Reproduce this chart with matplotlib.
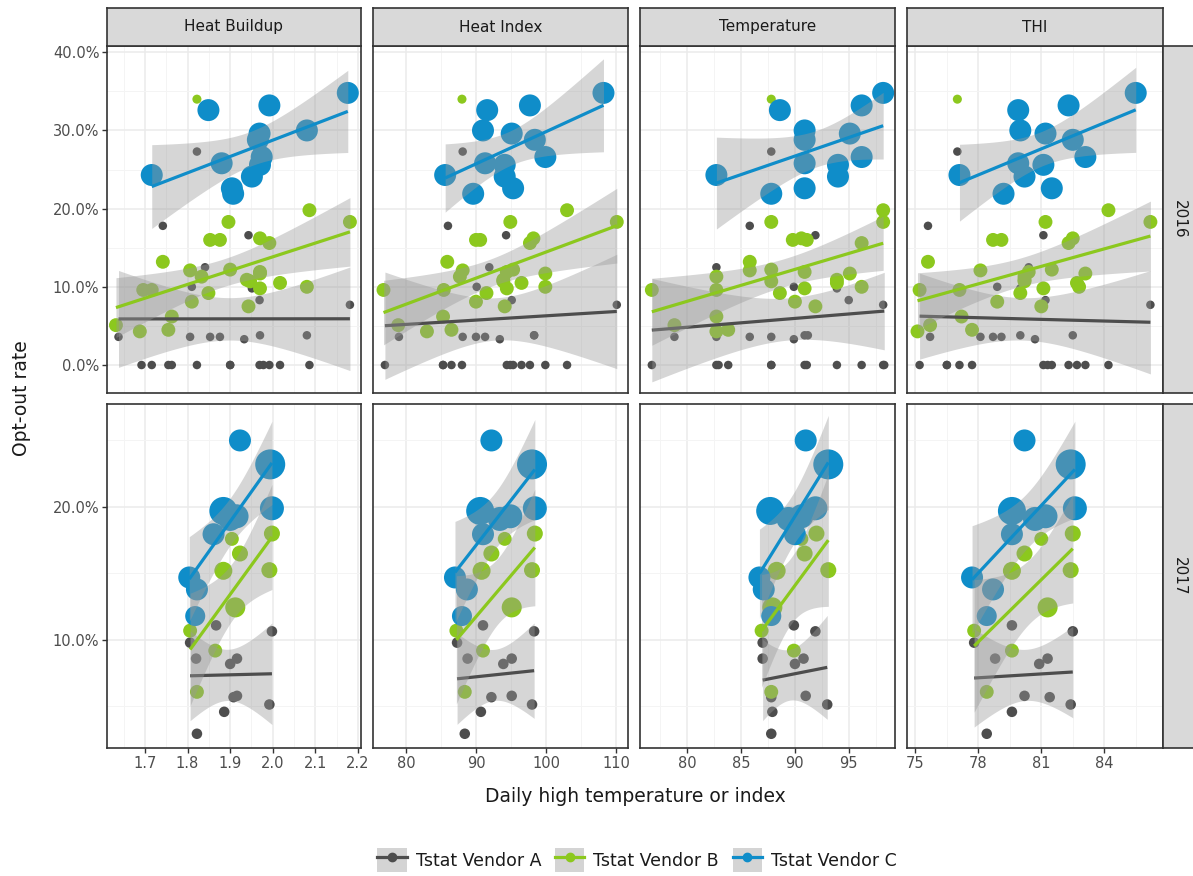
import numpy as np
import matplotlib
matplotlib.use("Agg")
import matplotlib.pyplot as plt
from matplotlib.patches import Patch
from matplotlib.lines import Line2D
from matplotlib.legend_handler import HandlerTuple

plt.rcParams['font.family'] = ['DejaVu Sans']

# ---- data (opt-out rate in %, x per facet, n = homes -> point size / lm weight) ----
facets = ['Heat Buildup', 'Heat Index', 'Temperature', 'THI']
years = ['2016', '2017']
vendors = ['Tstat Vendor A', 'Tstat Vendor B', 'Tstat Vendor C']

# 2016 - Vendor A  (last four sit behind other points)
a16_y = [27.3, 17.8, 16.6, 12.5, 10.0, 9.8, 8.3, 7.7, 3.6, 3.6, 3.6, 3.6, 3.3, 3.8, 3.8,
         0, 0, 0, 0, 0, 0, 0, 0, 0, 0, 0, 15.6, 10.0, 16.2, 0]
a16_hb = [1.822, 1.742, 1.943, 1.841, 1.810, 1.951, 1.969, 2.181, 1.638, 1.806, 1.853, 1.876, 1.933, 1.970, 2.080,
          1.692, 1.716, 1.755, 1.763, 1.822, 1.900, 1.969, 1.978, 1.992, 2.017, 2.086, 1.992, 2.080, 1.876, 1.900]
a16_hi = [88.1, 86.0, 94.3, 91.9, 90.1, 94.1, 95.1, 110.1, 79.0, 88.1, 90.0, 91.3, 93.4, 98.3, 98.3,
          77.0, 85.3, 86.5, 88.0, 94.4, 94.9, 95.3, 96.5, 97.7, 99.9, 103.0, 97.7, 99.9, 98.2, 85.3]
a16_t = [87.8, 85.8, 91.9, 82.7, 89.9, 93.9, 95.0, 98.2, 78.8, 82.7, 85.8, 87.8, 89.9, 90.9, 91.2,
         76.7, 82.7, 82.9, 83.8, 87.8, 90.9, 91.1, 93.9, 96.2, 98.2, 98.3, 96.2, 96.2, 89.8, 87.8]
a16_thi = [77.0, 75.6, 81.1, 80.4, 78.9, 80.0, 81.2, 86.2, 75.7, 78.1, 78.7, 79.1, 80.7, 80.0, 82.5,
           75.2, 76.5, 77.1, 77.7, 81.1, 81.3, 81.5, 82.3, 82.7, 83.1, 84.2, 82.3, 82.8, 82.5, 76.5]

# 2016 - Vendor B
b16_y = [34.0, 18.3, 19.8, 18.3, 16.0, 16.0, 16.2, 15.6, 13.2, 12.1, 12.2, 11.9, 11.3, 10.7,
         10.5, 11.7, 10.0, 9.6, 9.6, 9.2, 9.8, 8.1, 7.5, 6.2, 4.5, 4.3, 5.1, 10.9]
b16_hb = [1.822, 1.896, 2.086, 2.181, 1.853, 1.876, 1.970, 1.992, 1.742, 1.806, 1.900, 1.970, 1.833, 1.947,
          2.017, 1.970, 2.080, 1.696, 1.716, 1.849, 1.970, 1.810, 1.943, 1.763, 1.755, 1.688, 1.632, 1.939]
b16_hi = [88.0, 94.9, 103.0, 110.1, 90.0, 90.6, 98.2, 97.7, 85.9, 88.1, 95.3, 94.4, 87.7, 93.9,
          96.5, 99.9, 99.9, 76.8, 85.4, 91.5, 94.4, 90.0, 94.1, 85.3, 86.5, 83.0, 78.9, 93.9]
b16_t = [87.8, 87.8, 98.2, 98.2, 89.8, 91.1, 90.6, 96.2, 85.8, 85.8, 87.8, 90.9, 82.7, 87.8,
         93.9, 95.1, 96.2, 76.7, 82.7, 88.6, 90.9, 90.0, 91.9, 82.7, 83.8, 82.7, 78.8, 93.9]
b16_thi = [77.0, 81.2, 84.2, 86.2, 78.7, 79.1, 82.5, 82.3, 75.6, 78.1, 81.5, 80.4, 80.2, 80.2,
           82.7, 83.1, 82.8, 75.2, 77.1, 80.0, 81.1, 78.9, 81.0, 77.2, 77.7, 75.1, 75.7, 80.2]
b16_n = [17, 40, 40, 40, 40, 40, 40, 40, 40, 40, 40, 40, 40, 40,
         40, 40, 40, 40, 40, 40, 40, 40, 40, 40, 40, 40, 40, 40]

# 2016 - Vendor C
c16_y = [34.8, 33.2, 32.6, 30.0, 29.6, 28.8, 26.6, 25.8, 25.6, 24.3, 24.1, 22.6, 21.9]
c16_hb = [2.176, 1.992, 1.849, 2.080, 1.969, 1.965, 1.974, 1.880, 1.970, 1.716, 1.951, 1.904, 1.907]
c16_hi = [108.2, 97.7, 91.6, 91.0, 95.1, 98.4, 99.9, 91.3, 94.1, 85.6, 94.1, 95.3, 89.6]
c16_t = [98.2, 96.2, 88.6, 90.9, 95.1, 90.9, 96.2, 90.9, 94.0, 82.7, 94.0, 90.9, 87.8]
c16_thi = [85.5, 82.3, 79.9, 80.0, 81.2, 82.5, 83.1, 79.9, 81.1, 77.1, 80.2, 81.5, 79.2]

# 2017 - Vendor A
a17_y = [11.1, 10.65, 9.8, 8.6, 8.2, 8.6, 5.8, 5.7, 5.15, 4.6, 2.95]
a17_hb = [1.867, 1.998, 1.806, 1.820, 1.900, 1.916, 1.916, 1.908, 1.992, 1.886, 1.822]
a17_hi = [91.0, 98.3, 87.3, 88.8, 93.9, 95.1, 95.1, 92.2, 98.0, 90.7, 88.4]
a17_t = [89.9, 91.9, 87.0, 87.0, 90.0, 90.8, 91.0, 87.8, 93.0, 87.9, 87.8]
a17_thi = [79.6, 82.5, 77.8, 78.8, 80.9, 81.3, 80.2, 81.4, 82.4, 79.6, 78.4]

# 2017 - Vendor B
b17_y = [18.0, 17.6, 16.5, 15.2, 15.25, 12.45, 10.7, 9.2, 6.1]
b17_hb = [1.998, 1.904, 1.923, 1.884, 1.992, 1.912, 1.806, 1.865, 1.822]
b17_hi = [98.4, 94.1, 92.2, 90.8, 98.0, 95.1, 87.2, 91.0, 88.4]
b17_t = [92.0, 90.6, 90.9, 88.3, 93.1, 87.9, 86.9, 89.9, 87.8]
b17_thi = [82.5, 81.0, 80.2, 79.6, 82.4, 81.3, 77.8, 79.6, 78.4]
b17_n = [53, 40, 53, 67, 53, 83, 40, 40, 40]

# 2017 - Vendor C
c17_y = [25.0, 23.2, 19.7, 19.9, 19.3, 19.1, 17.95, 14.7, 13.8, 11.8]
c17_hb = [1.923, 1.994, 1.884, 1.998, 1.915, 1.900, 1.861, 1.804, 1.822, 1.818]
c17_hi = [92.2, 98.0, 90.6, 98.4, 94.9, 93.4, 91.0, 87.0, 88.7, 88.0]
c17_t = [91.0, 93.1, 87.7, 91.9, 90.6, 89.4, 90.0, 86.7, 87.1, 87.8]
c17_thi = [80.2, 82.4, 79.6, 82.6, 81.2, 80.7, 79.6, 77.7, 78.7, 78.4]
c17_n = [100, 186, 162, 119, 119, 119, 100, 100, 100, 83]

# default homes per point where the size does not vary
n_default = {('2016', 0): 15, ('2016', 2): 100, ('2017', 0): 23}

groups = {
    ('2016', 0): (a16_y, [a16_hb, a16_hi, a16_t, a16_thi], None),
    ('2016', 1): (b16_y, [b16_hb, b16_hi, b16_t, b16_thi], b16_n),
    ('2016', 2): (c16_y, [c16_hb, c16_hi, c16_t, c16_thi], None),
    ('2017', 0): (a17_y, [a17_hb, a17_hi, a17_t, a17_thi], None),
    ('2017', 1): (b17_y, [b17_hb, b17_hi, b17_t, b17_thi], b17_n),
    ('2017', 2): (c17_y, [c17_hb, c17_hi, c17_t, c17_thi], c17_n),
}

# ---- style ----
colors = ['#4D4D4D', '#8CC81E', '#0F8DC9']
px_per_sqrt_n = 1.1

xlims = [(1.611, 2.207), (75.3, 111.7), (75.6, 99.3), (74.6, 86.8)]
xmaj = [[1.7, 1.8, 1.9, 2.0, 2.1, 2.2], [80, 90, 100, 110], [80, 85, 90, 95], [75, 78, 81, 84]]
xmin = [[1.65, 1.75, 1.85, 1.95, 2.05, 2.15], [85, 95, 105], [77.5, 82.5, 87.5, 92.5, 97.5],
        [76.5, 79.5, 82.5, 85.5]]
xfmt = ['{:.1f}', '{:.0f}', '{:.0f}', '{:.0f}']
ylims = [(-3.58, 40.8), (1.88, 27.74)]
ymaj = [[0, 10, 20, 30, 40], [10, 20]]
ymin = [[5, 15, 25, 35], [5, 15, 25]]


def t975(df):
    z = 1.959964
    g1 = (z**3 + z) / 4
    g2 = (5*z**5 + 16*z**3 + 3*z) / 96
    g3 = (3*z**7 + 19*z**5 + 17*z**3 - 15*z) / 384
    g4 = (79*z**9 + 776*z**7 + 1482*z**5 - 1920*z**3 - 945*z) / 92160
    return z + g1/df + g2/df**2 + g3/df**3 + g4/df**4


def lm_band(x, y, w):
    # weighted lm with 95% CI of the mean, like geom_smooth(method = "lm")
    x = np.asarray(x, float)
    y = np.asarray(y, float)
    w = np.asarray(w, float)
    n = len(x)
    xm = np.sum(w * x) / np.sum(w)
    ym = np.sum(w * y) / np.sum(w)
    sxx = np.sum(w * (x - xm)**2)
    b = np.sum(w * (x - xm) * (y - ym)) / sxx
    a = ym - b * xm
    xs = np.linspace(x.min(), x.max(), 80)
    fit = a + b * xs
    s2 = np.sum(w * (y - a - b * x)**2) / (n - 2)
    se = np.sqrt(s2 * (1.0 / np.sum(w) + (xs - xm)**2 / sxx))
    t = t975(n - 2)
    return xs, fit, fit - t*se, fit + t*se


W, H = 1193, 876
fig = plt.figure(figsize=(W/100, H/100), dpi=100)


def ax_at(l, t, r, b):
    return fig.add_axes([l/W, 1 - b/H, (r - l)/W, (b - t)/H])


cols = [(107, 361), (373, 628), (640, 895), (907, 1163)]
rows = [(46, 393), (404, 748)]
edge = '#333333'

for ri, yr in enumerate(years):
    for ci, fac in enumerate(facets):
        ax = ax_at(cols[ci][0], rows[ri][0], cols[ci][1], rows[ri][1])
        ax.set_facecolor('white')
        ax.set_xlim(*xlims[ci])
        ax.set_ylim(*ylims[ri])
        ax.set_xticks(xmaj[ci])
        ax.set_xticks(xmin[ci], minor=True)
        ax.set_yticks(ymaj[ri])
        ax.set_yticks(ymin[ri], minor=True)
        ax.set_xticklabels([xfmt[ci].format(v) for v in xmaj[ci]])
        ax.set_yticklabels(['{:.1f}%'.format(v) for v in ymaj[ri]])
        ax.grid(which='major', color='#EBEBEB', lw=1.1)
        ax.grid(which='minor', color='#F4F4F4', lw=0.7)
        ax.set_axisbelow(True)
        for sp in ax.spines.values():
            sp.set_color(edge)
            sp.set_linewidth(1.2)
        ax.tick_params(which='major', length=3.5, width=1.0, color=edge,
                       labelsize=10.5, labelcolor='#4D4D4D', pad=2)
        ax.tick_params(which='minor', length=0)
        ax.tick_params(left=(ci == 0), labelleft=(ci == 0),
                       bottom=(ri == 1), labelbottom=(ri == 1))

        wts = []
        # points
        for vi in range(3):
            y, xs_list, n = groups[(yr, vi)]
            if n is None:
                n = np.full(len(y), n_default[(yr, vi)])
            n = np.asarray(n, float)
            wts.append(n)
            r = px_per_sqrt_n * np.sqrt(n)
            s = (2 * r * 72 / 100) ** 2
            ax.scatter(xs_list[ci], y, s=s, color=colors[vi], lw=0, zorder=2)
        # smooth
        for vi in range(3):
            y, xs_list, n = groups[(yr, vi)]
            xs, fit, lo, hi = lm_band(xs_list[ci], y, wts[vi])
            ax.fill_between(xs, lo, hi, color='#999999', alpha=0.4, lw=0, zorder=3 + vi)
            ax.plot(xs, fit, color=colors[vi], lw=2.3, zorder=3 + vi, solid_capstyle='butt')

# strips on top
for ci, fac in enumerate(facets):
    sa = ax_at(cols[ci][0], 8, cols[ci][1], 46)
    sa.set_facecolor('#D9D9D9')
    sa.set_xticks([])
    sa.set_yticks([])
    for sp in sa.spines.values():
        sp.set_color(edge)
        sp.set_linewidth(1.2)
    sa.text(0.5, 0.5, fac, ha='center', va='center', fontsize=11, color='#1A1A1A',
            transform=sa.transAxes)

# strips on right
for ri, yr in enumerate(years):
    sa = ax_at(1163, rows[ri][0], 1198, rows[ri][1])
    sa.set_facecolor('#D9D9D9')
    sa.set_xticks([])
    sa.set_yticks([])
    for sp in sa.spines.values():
        sp.set_color(edge)
        sp.set_linewidth(1.2)
    fig.text(1179/W, 1 - (rows[ri][0] + rows[ri][1]) / 2 / H, yr, rotation=-90,
             ha='center', va='center', fontsize=11, color='#1A1A1A')

fig.text(635/W, 1 - 797/H, 'Daily high temperature or index', ha='center', va='center',
         fontsize=13.5, color='#1A1A1A')
fig.text(22/W, 1 - 398/H, 'Opt-out rate', rotation=90, ha='center', va='center',
         fontsize=13.5, color='#1A1A1A')

handles = []
for vi in range(3):
    handles.append((Patch(facecolor='#D4D4D4', edgecolor='none'),
                    Line2D([], [], color=colors[vi], lw=2.3, marker='o', markersize=6)))
fig.legend(handles, vendors, loc='center', bbox_to_anchor=(637/W, 1 - 860/H), ncol=3,
           frameon=False, fontsize=12.5, handlelength=1.7, handleheight=1.7,
           handletextpad=0.5, columnspacing=0.8, labelcolor='#1A1A1A',
           handler_map={tuple: HandlerTuple(ndivide=1, pad=0)})

fig.savefig('out.png', dpi=100)
